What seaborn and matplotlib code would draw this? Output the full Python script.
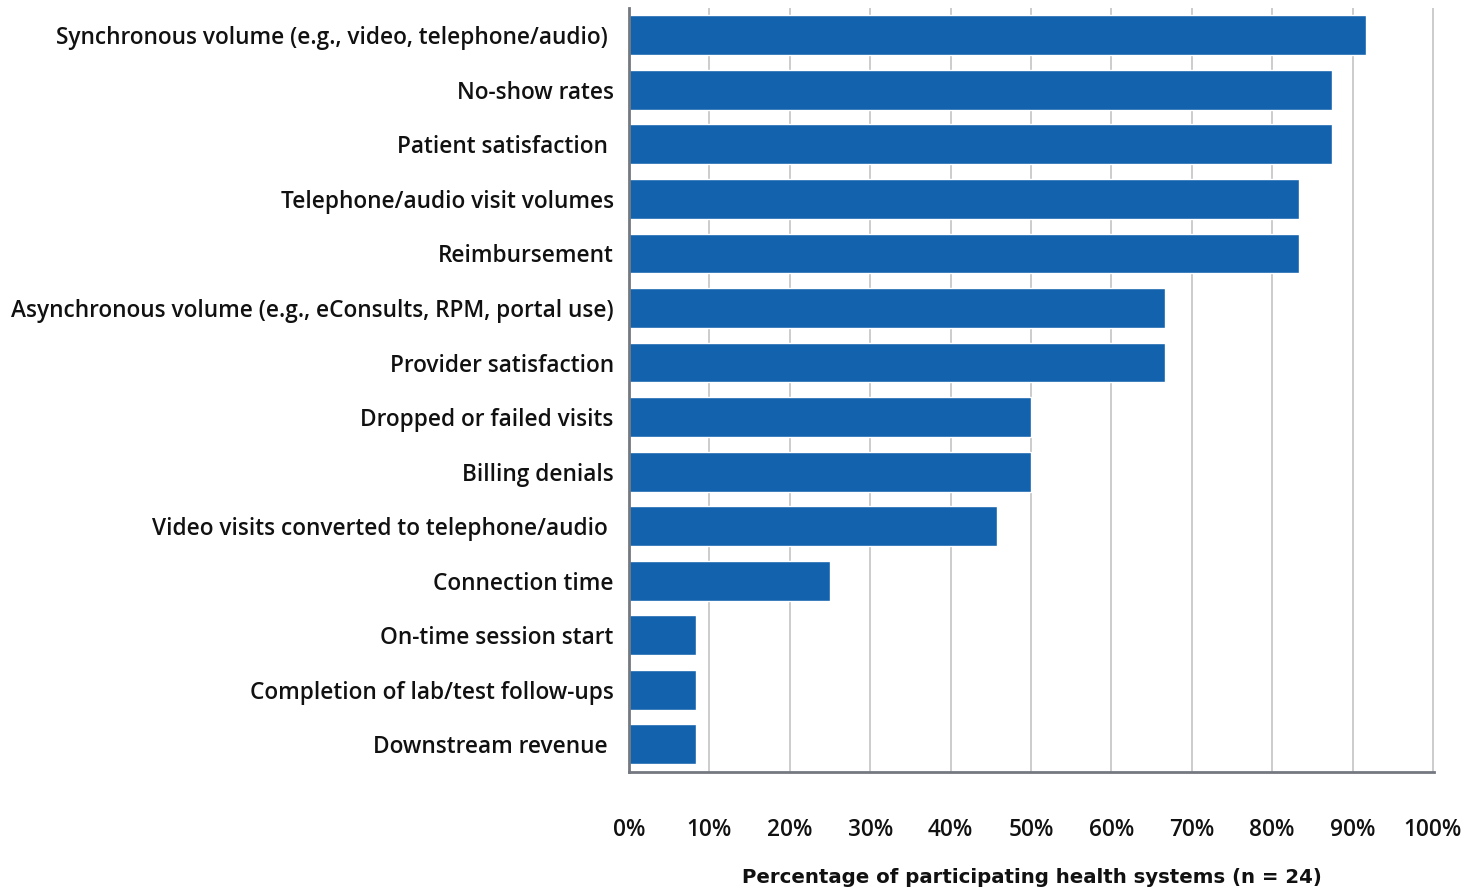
import matplotlib
matplotlib.use("Agg")
import matplotlib.pyplot as plt
from matplotlib.ticker import FuncFormatter, MultipleLocator
import seaborn as sns
import pandas as pd

metrics = [
    "Synchronous volume (e.g., video, telephone/audio) ",
    "No-show rates",
    "Patient satisfaction ",
    "Telephone/audio visit volumes",
    "Reimbursement",
    "Asynchronous volume (e.g., eConsults, RPM, portal use)",
    "Provider satisfaction",
    "Dropped or failed visits",
    "Billing denials",
    "Video visits converted to telephone/audio ",
    "Connection time",
    "On-time session start",
    "Completion of lab/test follow-ups",
    "Downstream revenue ",
]
# number of the 24 participating health systems tracking each metric
systems = [22, 21, 21, 20, 20, 16, 16, 12, 12, 11, 6, 2, 2, 2]
n_total = 24
share = [s / n_total for s in systems]

df = pd.DataFrame({"metric": metrics, "share": share})

sns.set_theme(style="white")
plt.rcParams["font.family"] = ["Open Sans", "DejaVu Sans"]

fig = plt.figure(figsize=(14.8, 8.88), dpi=100)
ax = fig.add_axes([0.425, 0.131, 0.544, 0.860])

sns.barplot(data=df, x="share", y="metric", color="#1262AE", width=0.73,
            saturation=1, ax=ax, orient="h")

ax.set_xlim(0, 1.0015)
ax.set_ylim(13.5, -0.5)
ax.xaxis.set_major_locator(MultipleLocator(0.1))
ax.xaxis.set_major_formatter(FuncFormatter(lambda v, p: f"{v * 100:.0f}%"))
ax.grid(axis="x", color="#c4c4c4", linewidth=1.2)
ax.set_axisbelow(True)

for side in ("top", "right"):
    ax.spines[side].set_visible(False)
for side in ("left", "bottom"):
    ax.spines[side].set_color("#747880")
    ax.spines[side].set_linewidth(2)

ax.tick_params(axis="x", length=0, pad=33, labelsize=16.3, labelcolor="#111111")
ax.tick_params(axis="y", length=0, pad=11, labelsize=16.3, labelcolor="#111111")
for lbl in ax.get_xticklabels() + ax.get_yticklabels():
    lbl.set_fontweight("semibold")

ax.set_ylabel("")
ax.set_xlabel("Percentage of participating health systems (n = 24)",
              fontsize=14.2, fontweight="bold", family="DejaVu Sans",
              color="#111111", labelpad=19)

fig.savefig("out.png", dpi=100, facecolor="white")
